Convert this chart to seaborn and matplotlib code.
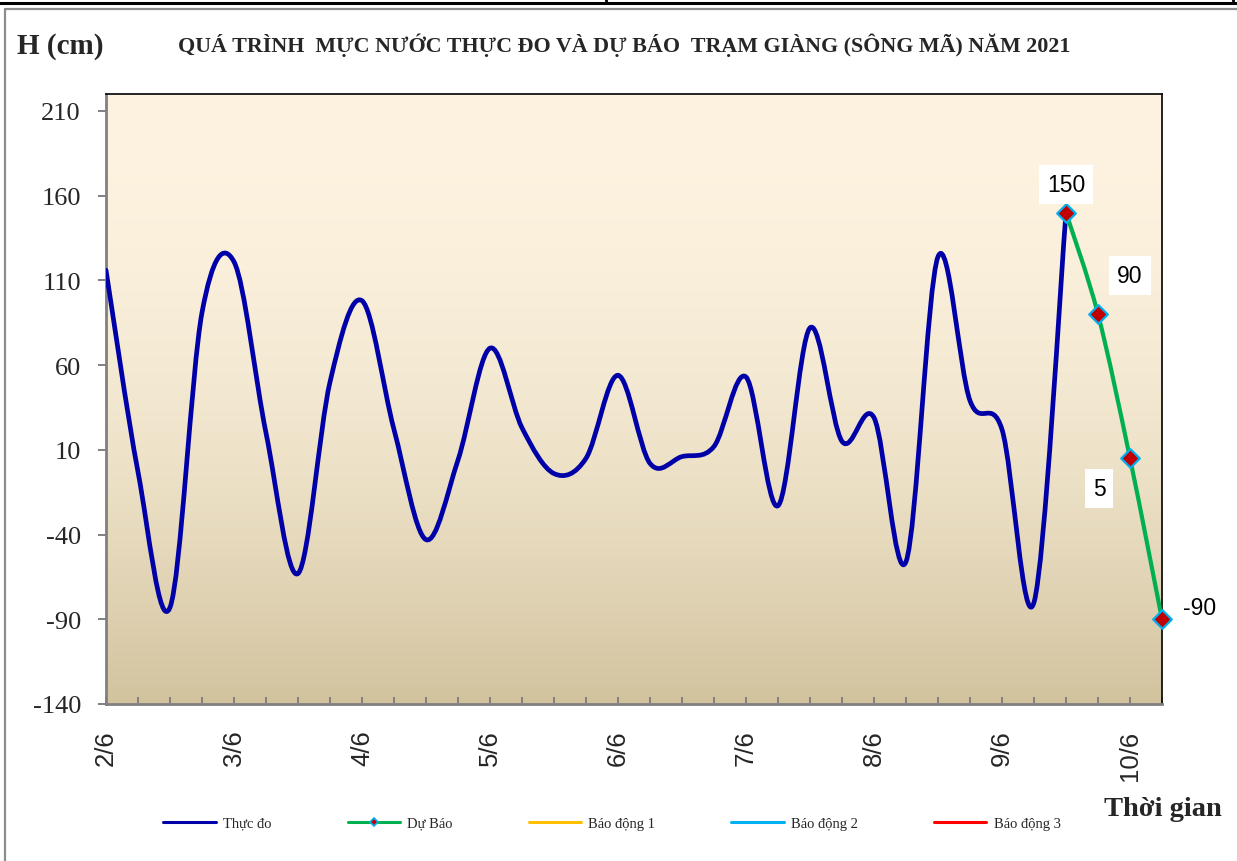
import numpy as np
import matplotlib
matplotlib.use('Agg')
import matplotlib.pyplot as plt
import seaborn as sns
from matplotlib.path import Path
from matplotlib.patches import PathPatch
from matplotlib.lines import Line2D

# ── DATA ───────────────────────────────────────────────────
day_labels = ['2/6', '3/6', '4/6', '5/6', '6/6', '7/6', '8/6', '9/6', '10/6']
obs_per_day = 4

# observed water level (cm), 4 readings a day from 2/6
obs_h = [116, -3, -83, 91, 121, 20, -63, 50, 98, 22,
         -43, 4, 70, 23, -4, 5, 54, 2, 6, 12,
         53, -23, 82, 15, 29, -56, 124, 39, 22, -80,
         150]
# forecast, starting from the last observed reading
fc_h = [150, 90, 5, -90]
fc_text = ['150', '90', '5', '-90']

legend_names = ['Thực đo', 'Dự Báo', 'Báo động 1', 'Báo động 2', 'Báo động 3']

obs_x = np.arange(len(obs_h))
fc_x = np.arange(len(fc_h)) + len(obs_h) - 1
n_pts = len(obs_h) + len(fc_h) - 1

# ── STYLE ──────────────────────────────────────────────────
sns.set_theme(style='white')
plt.rcParams['font.family'] = ['Liberation Serif', 'DejaVu Serif']
plt.rcParams['axes.unicode_minus'] = False

C_OBS = '#0000A8'
C_FC = '#00B050'
C_MK = '#C00000'
C_MKE = '#00B0F0'


def smooth_path(xs, ys):
    # Excel-like smoothed line: Catmull-Rom segments as cubic Bezier
    pts = np.column_stack([xs, ys]).astype(float)
    ext = np.vstack([pts[0], pts, pts[-1]])
    verts, codes = [pts[0]], [Path.MOVETO]
    for k in range(len(pts) - 1):
        p0, p1, p2, p3 = ext[k], ext[k + 1], ext[k + 2], ext[k + 3]
        verts += [p1 + (p2 - p0) / 6, p2 - (p3 - p1) / 6, p2]
        codes += [Path.CURVE4] * 3
    return Path(verts, codes)


fig = plt.figure(figsize=(12.37, 8.62), dpi=100)
ax = fig.add_axes([106 / 1237, 1 - 705 / 862, 1056 / 1237, 610 / 862])

ymin, ymax = -140, 220
ax.set_xlim(0, n_pts - 1)
ax.set_ylim(ymin, ymax)

# plot area gradient (cream -> tan)
t = np.linspace(0, 1, 256) ** 2
top = np.array([253, 243, 224]) / 255
bot = np.array([210, 195, 158]) / 255
grad = (top[None, :] * (1 - t[:, None]) + bot[None, :] * t[:, None])[:, None, :]
ax.imshow(grad, extent=[0, n_pts - 1, ymin, ymax], aspect='auto',
          origin='upper', zorder=0, interpolation='bilinear')

# observed line
ax.add_patch(PathPatch(smooth_path(obs_x, obs_h), fill=False, edgecolor=C_OBS,
                       lw=3.4, capstyle='round', joinstyle='round', zorder=3))
# forecast line + markers
ax.add_patch(PathPatch(smooth_path(fc_x, fc_h), fill=False, edgecolor=C_FC,
                       lw=3.0, capstyle='round', joinstyle='round', zorder=4))
sns.scatterplot(x=fc_x, y=fc_h, marker='D', s=90, color=C_MK,
                edgecolor=C_MKE, linewidth=1.6, zorder=5, ax=ax, clip_on=False)

# data labels
offsets = [(0, 28), (32, 39), (-31, -30), (38, 12)]
for xi, yi, txt, off in zip(fc_x, fc_h, fc_text, offsets):
    ax.annotate(txt, (xi, yi), xytext=off, textcoords='offset pixels',
                ha='center', va='center', fontsize=16.5,
                family=['Liberation Sans', 'DejaVu Sans'], color='black',
                bbox=dict(boxstyle='square,pad=0.35', fc='white', ec='none'),
                zorder=6, annotation_clip=False)

# axes
ax.set_yticks(np.arange(ymin, 211, 50))
ax.set_xticks(np.arange(n_pts))
ax.set_xticklabels([day_labels[i // obs_per_day] if i % obs_per_day == 0 else ''
                    for i in range(n_pts)])
ax.tick_params(axis='y', direction='out', length=6, width=1.4, color='#808080',
               labelsize=19, pad=12, left=True)
ax.tick_params(axis='x', direction='in', length=5, width=1.4, color='#808080',
               labelsize=18.5, pad=18.5, rotation=90, bottom=True)
for lab in ax.get_xticklabels():
    lab.set_family(['Liberation Sans', 'DejaVu Sans'])
for s in ['left', 'bottom']:
    ax.spines[s].set_color('#808080')
    ax.spines[s].set_linewidth(2)
for s in ['top', 'right']:
    ax.spines[s].set_color('#111111')
    ax.spines[s].set_linewidth(1.3)
ax.grid(False)

# titles
fig.text(624 / 1237, 1 - 45 / 862,
         'QUÁ TRÌNH  MỰC NƯỚC THỰC ĐO VÀ DỰ BÁO  TRẠM GIÀNG (SÔNG MÃ) NĂM 2021',
         ha='center', va='center', fontsize=15.8, fontweight='bold')
fig.text(17 / 1237, 1 - 47 / 862, 'H (cm)', ha='left', va='center',
         fontsize=21, fontweight='bold')
fig.text(1222 / 1237, 1 - 810 / 862, 'Thời gian', ha='right', va='center',
         fontsize=20.5, fontweight='bold')

# legend
handles = [
    Line2D([], [], color=C_OBS, lw=2.2),
    Line2D([], [], color=C_FC, lw=2.2, marker='D', markersize=4.5,
           markerfacecolor=C_MK, markeredgecolor=C_MKE, markeredgewidth=1.2),
    Line2D([], [], color='#FFC000', lw=2.2),
    Line2D([], [], color='#00B0F0', lw=2.2),
    Line2D([], [], color='#FF0000', lw=2.2),
]
fig.legend(handles, legend_names, loc='center', bbox_to_anchor=(612 / 1237, 1 - 824 / 862),
           ncol=5, frameon=False, fontsize=10.5, handlelength=3.6,
           handletextpad=0.5, columnspacing=5.2)

# page / chart frame lines
fig.add_artist(Line2D([0, 1], [1 - 4 / 862] * 2, color='black', lw=2.2,
                      transform=fig.transFigure))
for xv in [606, 1233]:
    fig.add_artist(Line2D([xv / 1237] * 2, [1, 1 - 4 / 862], color='black', lw=2,
                          transform=fig.transFigure))
fig.add_artist(Line2D([5 / 1237, 1], [1 - 10 / 862] * 2, color='#8C8C8C', lw=1.6,
                      transform=fig.transFigure))
fig.add_artist(Line2D([5 / 1237] * 2, [1 - 10 / 862, 0], color='#8C8C8C', lw=1.6,
                      transform=fig.transFigure))

fig.savefig('out.png', dpi=100)
